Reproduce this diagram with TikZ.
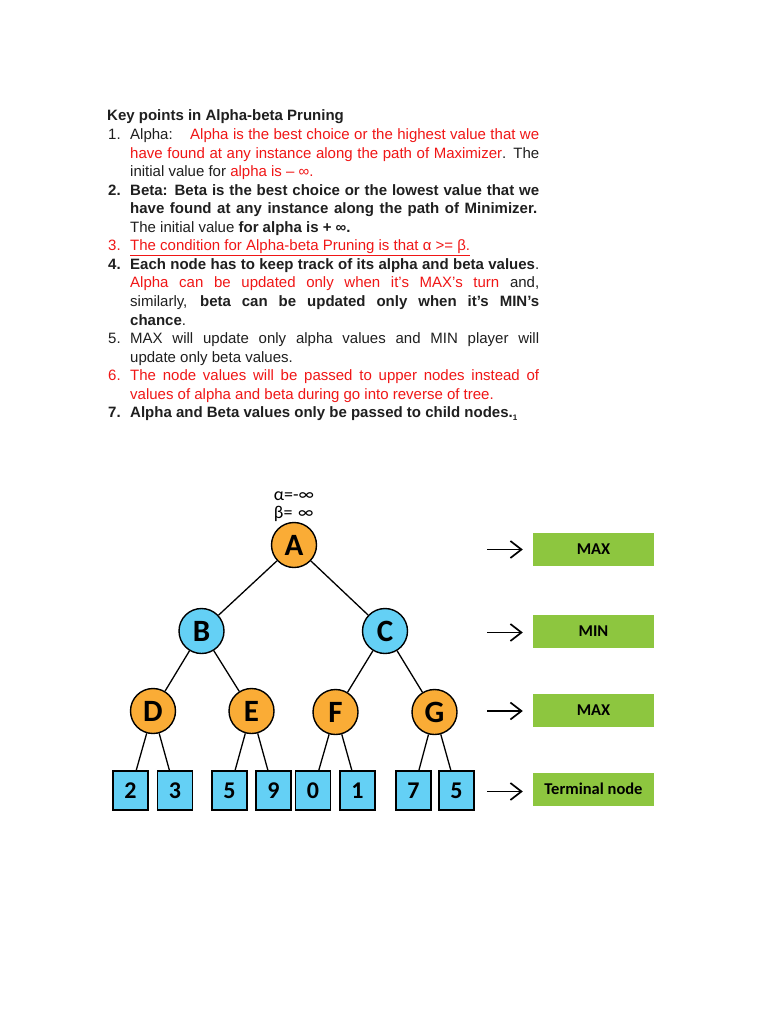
\documentclass[tikz,border=0pt]{standalone}
\usepackage{fontspec}
\setmainfont{Liberation Sans}
\newfontfamily\treefont{Carlito}
\usetikzlibrary{arrows.meta}

\definecolor{maxorange}{RGB}{250,172,54}
\definecolor{minblue}{RGB}{100,208,245}
\definecolor{levelgreen}{RGB}{141,198,63}
\definecolor{keyred}{RGB}{240,22,22}

\begin{document}
\begin{tikzpicture}[x=1pt, y=-1pt,
  txt/.style={anchor=base west, inner sep=0pt, text=black!88,
    font=\fontsize{15}{18.55}\selectfont},
  abtext/.style={font=\treefont\fontsize{18}{18}\selectfont, align=left, inner sep=0pt},
  maxnode/.style={circle, draw, line width=1.4pt, fill=maxorange,
    minimum size=45pt, inner sep=0pt,
    font=\treefont\bfseries\fontsize{31}{31}\selectfont},
  minnode/.style={maxnode, fill=minblue},
  leaf/.style={rectangle, draw, line width=1.5pt, fill=minblue,
    minimum width=35pt, minimum height=39pt, inner sep=0pt,
    font=\treefont\bfseries\fontsize{24}{24}\selectfont},
  levelbox/.style={rectangle, fill=levelgreen, minimum width=121pt,
    minimum height=33pt, inner sep=0pt,
    font=\treefont\bfseries\fontsize{16.5}{16.5}\selectfont},
  branch/.style={line width=1.3pt},
  lvlarrow/.style={-{Straight Barb[length=11pt, width=17pt]},
    line width=1.7pt, shorten >=10pt}]
  % --- page of 768 x 1024, one unit = one pixel, y runs downwards ---
  \def\lineY#1{121+#1*18.55}
  \fill[white] (0,0) rectangle (768,1024);
  \useasboundingbox (0,0) rectangle (768,1024);

  % Key points text
  \node[txt] (head) at (107,{\lineY{0}}) {\bfseries Key points in Alpha-beta Pruning};

  \node[txt] (n1) at (108,{\lineY{1}}) {1.};
  \node[txt] (t1a) at (130,{\lineY{1}}) {Alpha:};
  \node[txt, text=keyred] (t1b) at (190,{\lineY{1}})
    {\makebox[349pt][s]{Alpha is the best choice or the highest value that we}};
  \node[txt] (t1c) at (130,{\lineY{2}})
    {\makebox[409pt][s]{{\color{keyred}have found at any instance along the path of Maximizer}. The}};
  \node[txt] (t1d) at (130,{\lineY{3}}) {initial value for {\color{keyred}alpha is – ∞.}};

  \node[txt] (n2) at (108,{\lineY{4}}) {\bfseries 2.};
  \node[txt] (t2a) at (130,{\lineY{4}})
    {\makebox[409pt][s]{\bfseries Beta: Beta is the best choice or the lowest value that we}};
  \node[txt] (t2b) at (130,{\lineY{5}})
    {\makebox[407pt][s]{\bfseries have found at any instance along the path of Minimizer.}};
  \node[txt] (t2c) at (130,{\lineY{6}}) {The initial value {\bfseries for alpha is + ∞.}};

  \node[txt, text=keyred] (n3) at (108,{\lineY{7}}) {3.};
  \node[txt, text=keyred] (t3a) at (130,{\lineY{7}})
    {\underline{The condition for Alpha-beta Pruning is that α >= β.}};

  \node[txt] (n4) at (108,{\lineY{8}}) {\bfseries 4.};
  \node[txt] (t4a) at (130,{\lineY{8}})
    {\makebox[409pt][s]{{\bfseries Each node has to keep track of its alpha and beta values}.}};
  \node[txt] (t4b) at (130,{\lineY{9}})
    {\makebox[409pt][s]{{\color{keyred}Alpha can be updated only when it’s MAX’s turn} and,}};
  \node[txt] (t4c) at (130,{\lineY{10}})
    {\makebox[409pt][s]{similarly, {\bfseries beta can be updated only when it’s MIN’s}}};
  \node[txt] (t4d) at (130,{\lineY{11}}) {{\bfseries chance}.};

  \node[txt] (n5) at (108,{\lineY{12}}) {5.};
  \node[txt] (t5a) at (130,{\lineY{12}})
    {\makebox[409pt][s]{MAX will update only alpha values and MIN player will}};
  \node[txt] (t5b) at (130,{\lineY{13}}) {update only beta values.};

  \node[txt, text=keyred] (n6) at (108,{\lineY{14}}) {6.};
  \node[txt, text=keyred] (t6a) at (130,{\lineY{14}})
    {\makebox[409pt][s]{The node values will be passed to upper nodes instead of}};
  \node[txt, text=keyred] (t6b) at (130,{\lineY{15}})
    {values of alpha and beta during go into reverse of tree.};

  \node[txt] (n7) at (108,{\lineY{16}}) {\bfseries 7.};
  \node[txt] (t7a) at (130,{\lineY{16}})
    {\bfseries Alpha and Beta values only be passed to child nodes.{\fontsize{8}{8}\selectfont\raisebox{-3pt}{1}}};

  % Game tree
  \node[abtext] (ab) at (294,507) {α=-∞\\β=\hphantom{-}∞};
  \node[maxnode] (A) at (294,545) {A};
  \node[minnode] (B) at (201.5,631) {B};
  \node[minnode] (C) at (385,631) {C};
  \node[maxnode] (D) at (153,711) {D};
  \node[maxnode] (E) at (251.5,711) {E};
  \node[maxnode] (F) at (335.5,712) {F};
  \node[maxnode] (G) at (434.5,712) {G};

  % terminal values
  \foreach \name/\x/\val in {l1/130.5/2, l2/175/3, l3/229.5/5, l4/273.5/9,
                             l5/313/0, l6/357.5/1, l7/413.5/7, l8/456.5/5}
    \node[leaf] (\name) at (\x,790.5) {\val};

  % Branches
  \foreach \p/\c in {A/B, A/C, B/D, B/E, C/F, C/G,
                     D/l1, D/l2, E/l3, E/l4, F/l5, F/l6, G/l7, G/l8}
    \draw[branch] (\p) -- (\c);

  % Levels
  \node[levelbox] (lvmax) at (593.5,549.5) {MAX};
  \node[levelbox] (lvmin) at (593.5,631.5) {MIN};
  \node[levelbox] (lvmaxb) at (593.5,710.5) {MAX};
  \node[levelbox] (lvterm) at (593.5,789) {Terminal node};
  \coordinate (amax) at (487,549.5);
  \coordinate (amin) at (487,632.5);
  \coordinate (amaxb) at (487,711);
  \coordinate (aterm) at (487,791.5);
  \foreach \a/\b in {amax/lvmax, amin/lvmin, amaxb/lvmaxb, aterm/lvterm}
    \draw[lvlarrow] (\a) -- (\a -| \b.west);
\end{tikzpicture}
\end{document}
